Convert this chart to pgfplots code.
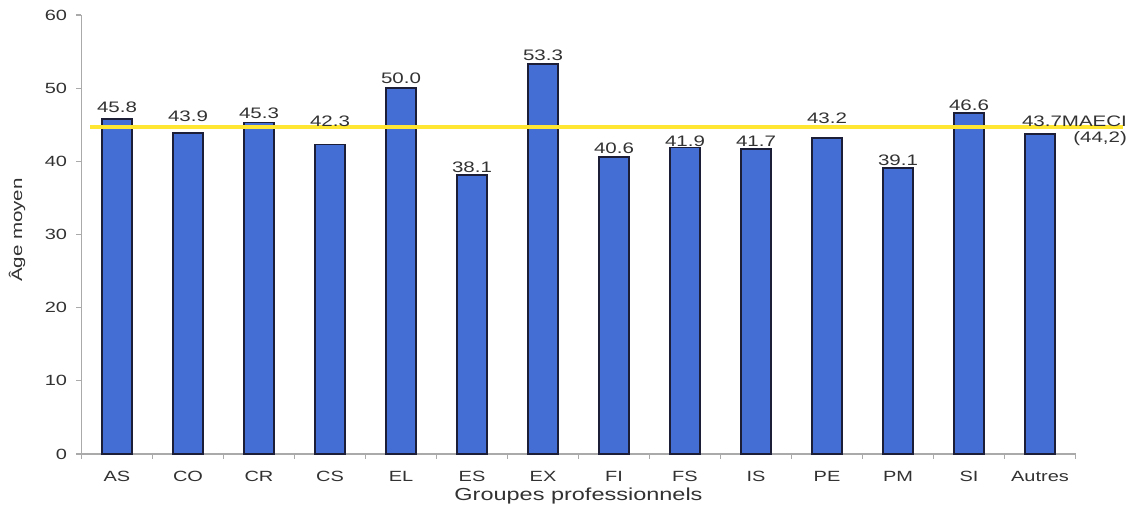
\documentclass[border=0pt]{standalone}
\usepackage{fontspec}
\setmainfont{Liberation Sans}[FakeStretch=1.35]
\usepackage{pgfplots}
\pgfplotsset{compat=1.18}
\usetikzlibrary{calc}
\definecolor{barfill}{RGB}{68,110,212}
\definecolor{bardraw}{RGB}{28,30,55}
\definecolor{meanline}{RGB}{255,230,50}
\definecolor{txt}{RGB}{50,50,50}
\definecolor{axisgray}{RGB}{170,170,170}
\begin{document}
\begin{tikzpicture}
\begin{axis}[
  x=35.5pt, y=3.6585pt,
  xmin=-0.5, xmax=13.5, ymin=0, ymax=60,
  axis x line*=bottom, axis y line*=left,
  axis line style={axisgray, line width=0.6pt, -},
  clip=false,
  ytick={0,10,...,60},
  xtick={-0.5,0.5,...,13.5},
  xticklabels={},
  extra x ticks={0,1,...,13},
  extra x tick labels={AS,CO,CR,CS,EL,ES,EX,FI,FS,IS,PE,PM,SI,Autres},
  extra x tick style={major tick length=0pt},
  tick align=outside, major tick length=2.5pt,
  tick style={axisgray, line width=0.6pt},
  ticklabel style={font=\fontsize{7.4}{8}\selectfont, text=txt},
  yticklabel style={anchor=east, inner sep=0pt, xshift=-4.5pt},
  xticklabel style={anchor=base, yshift=-14pt},
  /pgf/number format/assume math mode=true,
  xlabel={Groupes professionnels},
  xlabel style={font=\fontsize{8.7}{10}\selectfont, text=txt, at={(axis description cs:0.5,0)}, anchor=center, yshift=-21pt},
  ylabel={Âge moyen},
  ylabel style={font=\fontsize{7.6}{8}\selectfont, text=txt, at={(axis description cs:-0.0649,0.51)}, anchor=center},
]
\addplot[ybar, bar width=15pt, fill=barfill, draw=bardraw, line width=0.9pt] coordinates {
(0,45.8) (1,43.9) (2,45.3) (3,42.3) (4,50.0) (5,38.1) (6,53.3)
(7,40.6) (8,41.9) (9,41.7) (10,43.2) (11,39.1) (12,46.6) (13,43.7)};
\addplot[meanline, line width=1.6pt, mark=none] coordinates {(-0.38,44.7) (14.17,44.7)};
\addplot[draw=none, mark=none, nodes near coords, point meta=explicit symbolic,
  nodes near coords style={anchor=center, font=\fontsize{7.6}{9}\selectfont, text=txt}]
  table[meta=lab] {
x y lab
0 47.4 45.8
1 46.1 43.9
2 46.6 45.3
3 45.5 42.3
4 51.4 50.0
5 39.2 38.1
6 54.5 53.3
7 41.8 40.6
8 42.8 41.9
9 42.8 41.7
10 45.9 43.2
11 40.2 39.1
12 47.6 46.6
};
\addplot[draw=none, mark=none, nodes near coords, point meta=explicit symbolic,
  nodes near coords style={anchor=east, inner sep=0pt, font=\fontsize{7.6}{9}\selectfont, text=txt}]
  table[meta=lab] {
x y lab
14.23 45.5 43.7MAECI
14.23 43.1 (44,2)
};
\coordinate (O) at (axis cs:-0.5,0);
\end{axis}
\path[use as bounding box] ($(O)+(-40.75pt,-27pt)$) rectangle ($(O)+(524.75pt,227pt)$);
\end{tikzpicture}
\end{document}
